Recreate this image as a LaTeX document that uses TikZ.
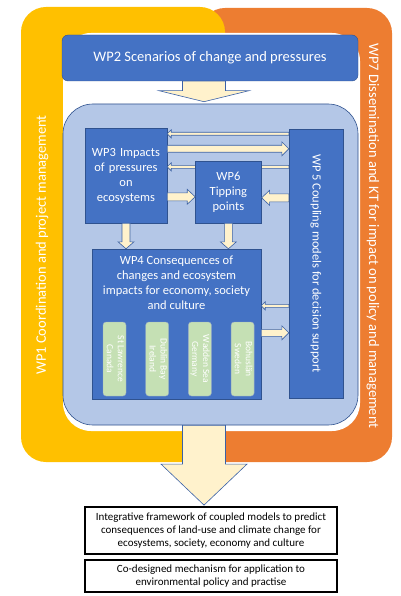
\documentclass[tikz,border=0pt]{standalone}
\usepackage{fontspec}
\setmainfont{Carlito}
\usepackage{graphicx}
\usetikzlibrary{positioning, calc}
\definecolor{WPblue}{RGB}{68, 114, 196}
\definecolor{WPedge}{RGB}{47, 82, 143}
\definecolor{PanelBlue}{RGB}{180, 199, 231}
\definecolor{WPyellow}{RGB}{255, 192, 0}
\definecolor{WPorange}{RGB}{237, 125, 49}
\definecolor{Cream}{RGB}{255, 242, 204}
\definecolor{CaseGreen}{RGB}{197, 224, 180}

\begin{document}
\begin{tikzpicture}[
            x=1pt, y=-1pt,
            node distance=4pt,
            wpbox/.style={rectangle, draw=WPedge, fill=WPblue, text=white, align=center,
                          inner sep=2pt, font=\fontsize{12.5}{15}\selectfont},
            panel/.style={rectangle, rounded corners=30pt, draw=WPedge, line width=0.6pt, fill=PanelBlue},
            frametext/.style={text=white, font=\fontsize{14.5}{17}\selectfont},
            casebox/.style={rectangle, rounded corners=3pt, draw=WPedge!50, fill=CaseGreen, text=white,
                            minimum width=23pt, minimum height=74pt, inner sep=0pt,
                            font=\fontsize{9.5}{11}\selectfont},
            outbox/.style={rectangle, draw=black, line width=1.8pt, fill=white, minimum width=252pt,
                           align=center, font=\fontsize{11}{13.3}\selectfont},
            arshaft/.store in=\arShaft, arhead/.store in=\arHead, arlen/.store in=\arLen,
            fatarrow/.style={draw=WPblue!85!black, line width=0.6pt, fill=Cream, to path={
                let \p1=($(\tikztotarget)!\arLen!(\tikztostart)$) in
                ($(\tikztostart)!\arShaft!90:(\tikztotarget)$) -- ($(\p1)!\arShaft!90:(\tikztotarget)$)
                -- ($(\p1)!\arHead!90:(\tikztotarget)$) -- (\tikztotarget)
                -- ($(\p1)!\arHead!-90:(\tikztotarget)$) -- ($(\p1)!\arShaft!-90:(\tikztotarget)$)
                -- ($(\tikztostart)!\arShaft!-90:(\tikztotarget)$) -- cycle}},
            thinarrow/.style={fatarrow, arshaft=1.5pt, arhead=4pt, arlen=4pt},
            thickarrow/.style={fatarrow, arshaft=3.5pt, arhead=7pt, arlen=7pt},
            bigarrow/.style={fatarrow, arshaft=21.5pt, arhead=45pt, arlen=11pt}
        ]
            \useasboundingbox (0,0) rectangle (400,596);
            \fill[WPorange, rounded corners=25pt] (200,8) rectangle (392,462);
            \fill[WPyellow, rounded corners=25pt] (21,7) rectangle (225,462);
            \fill[WPyellow] (195,430) rectangle (225,462);
            \fill[white, rounded corners=28pt] (63,33) rectangle (360,431);

            \node[frametext, rotate=90] (wp1) at (42,245) {WP1 Coordination and project management};
            \node[frametext, rotate=-90] (wp7) at (373,236) {WP7 Dissemination and KT for impact on policy and management};

            \node[wpbox, rounded corners=6pt, minimum width=296pt, minimum height=46pt,
                  font=\fontsize{14.5}{17}\selectfont] (wp2) at (210,58) {WP2 Scenarios of change and pressures};
            \node[panel, minimum width=295pt, minimum height=321pt] (panel) at (210.5,264.5) {};
            \draw[bigarrow] ([xshift=-6pt]wp2.south) to ([xshift=-6.5pt, yshift=2pt]panel.north);

            \node[wpbox, minimum width=82pt, minimum height=95pt, text width=78pt] (wp3) at (126,175.5)
                {WP3 Impacts\\of pressures\\on\\ecosystems};
            \node[wpbox, minimum width=54pt, minimum height=269pt] (wp5) at (316,263.5)
                {\rotatebox{-90}{WP 5 Coupling models for decision support}};
            \draw[thinarrow] ([yshift=-38pt]wp5.north west) to ([yshift=-39pt]wp3.north east);
            \node[wpbox, minimum width=66pt, minimum height=62pt, right=28pt of wp3.south east,
                  anchor=south west] (wp6) {WP6\\Tipping\\points};

            \draw[thinarrow] ([yshift=-5pt]wp5.north west) to ([yshift=-6pt]wp3.north east);
            \draw[thickarrow] ([yshift=-21pt]wp3.north east) to ([yshift=-20pt]wp5.north west);
            \draw[thickarrow, arshaft=4pt, arhead=7.5pt, arlen=8pt] ([yshift=-69pt]wp3.north east) to ([yshift=-36pt]wp6.north west);
            \draw[thickarrow, arshaft=4pt, arhead=7.5pt, arlen=8pt] ([yshift=-69pt]wp5.north west) to ([yshift=-37pt]wp6.north east);

            \node[wpbox, minimum width=169pt, minimum height=150pt] (wp4) at (176.5,324) {};
            \node[text=white, align=center, font=\fontsize{12.5}{15}\selectfont, below=4pt of wp4.north] (wp4title)
                {WP4 Consequences of\\changes and ecosystem\\impacts for economy, society\\and culture};
            \node[casebox] (cs1) at (114.5,359) {\rotatebox{-90}{\begin{tabular}{@{}c@{}}St Lawrence\\Canada\end{tabular}}};
            \node[casebox, right=19.3pt of cs1] (cs2) {\rotatebox{-90}{\begin{tabular}{@{}c@{}}Dublin Bay\\Ireland\end{tabular}}};
            \node[casebox, right=19.3pt of cs2] (cs3) {\rotatebox{-90}{\begin{tabular}{@{}c@{}}Wadden Sea\\Germany\end{tabular}}};
            \node[casebox, right=19.3pt of cs3] (cs4) {\rotatebox{-90}{\begin{tabular}{@{}c@{}}Bohuslän\\Sweden\end{tabular}}};

            \draw[thickarrow, arshaft=4pt, arhead=8pt] (wp3.south) to (wp3.south |- wp4.north);
            \draw[thickarrow, arshaft=4pt, arhead=8pt] (wp6.south) to (wp6.south |- wp4.north);
            \draw[thinarrow] ([yshift=-177pt]wp5.north west) to ([yshift=-57pt]wp4.north east);
            \draw[thickarrow] ([yshift=-84pt]wp4.north east) to ([yshift=-204pt]wp5.north west);

            \node[outbox, minimum height=47pt] (out1) at (211,530.5)
                {Integrative framework of coupled models to predict\\consequences of land-use and climate change for\\ecosystems, society, economy and culture};
            \node[outbox, minimum height=32pt, below=4pt of out1] (out2)
                {Co-designed mechanism for application to\\environmental policy and practise};
            \draw[bigarrow, arhead=43pt, arlen=41pt] ([xshift=-6.5pt]panel.south) to ([xshift=-7pt, yshift=1pt]out1.north);
        \end{tikzpicture}
\end{document}
